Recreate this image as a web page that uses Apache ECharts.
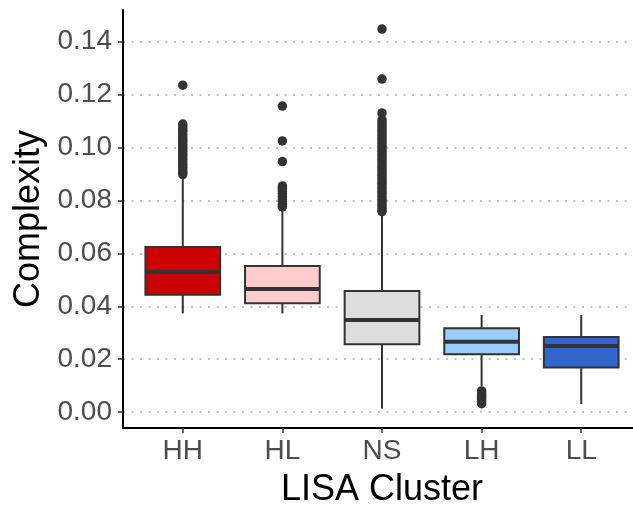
<!DOCTYPE html>
<html><head><meta charset="utf-8">
<script src="https://cdn.jsdelivr.net/npm/echarts@6/dist/echarts.min.js"></script>
<style>html,body{margin:0;padding:0;background:#fff}#c{width:633px;height:506px}</style>
</head><body><div id="c"></div>
<script>
const categories = ['HH', 'HL', 'NS', 'LH', 'LL'];
const boxColors = ['#CC0000', '#FFCCCC', '#DDDDDD', '#99CCFF', '#3366CC'];
// [lower whisker, Q1, median, Q3, upper whisker]
const boxHH = [0.0373, 0.0444, 0.0530, 0.0624, 0.0890];
const boxHL = [0.0373, 0.0412, 0.0465, 0.0552, 0.0765];
const boxNS = [0.0014, 0.0257, 0.0348, 0.0458, 0.0752];
const boxLH = [0.0098, 0.0219, 0.0266, 0.0317, 0.0367];
const boxLL = [0.0030, 0.0169, 0.0250, 0.0284, 0.0367];
const outliersHH = [0.1236, 0.1089, 0.1080, 0.1070, 0.1062, 0.1050, 0.1040, 0.1030, 0.1022, 0.1012, 0.1003, 0.0995, 0.0985, 0.0975, 0.0965, 0.0955, 0.0945, 0.0936, 0.0926, 0.0916, 0.0907, 0.0898];
const outliersHL = [0.1157, 0.1025, 0.0947, 0.0855, 0.0846, 0.0836, 0.0826, 0.0816, 0.0806, 0.0796, 0.0786, 0.0776];
const outliersNS = [0.1448, 0.1259, 0.1131, 0.1105, 0.1095, 0.1085, 0.1075, 0.1065, 0.1055, 0.1045, 0.1035, 0.1025, 0.1015, 0.1005, 0.0995, 0.0985, 0.0975, 0.0965, 0.0955, 0.0945, 0.0935, 0.0925, 0.0915, 0.0905, 0.0895, 0.0885, 0.0875, 0.0865, 0.0855, 0.0845, 0.0835, 0.0825, 0.0815, 0.0805, 0.0795, 0.0785, 0.0775, 0.0765, 0.0758];
const outliersLH = [0.0080, 0.0072, 0.0064, 0.0056, 0.0048, 0.0040, 0.0032];
const outliersLL = [];
const yTicks = [0, 0.02, 0.04, 0.06, 0.08, 0.10, 0.12, 0.14];
const xTicks = [1, 2, 3, 4, 5];

const boxes = [boxHH, boxHL, boxNS, boxLH, boxLL];
const outliers = [outliersHH, outliersHL, outliersNS, outliersLH, outliersLL];
const boxData = boxes.map((b, i) => [i + 1].concat(b));
const outData = [];
outliers.forEach((arr, i) => arr.forEach(v => outData.push([i + 1, v])));

const chart = echarts.init(document.getElementById('c'), null, {renderer: 'canvas'});
const FONT = '"Liberation Sans", Arial, sans-serif';
chart.setOption({
  animation: false,
  backgroundColor: '#ffffff',
  grid: {left: 123, right: -8, top: 10, bottom: 78, containLabel: false, outerBoundsMode: 'none'},
  xAxis: {
    type: 'value', min: 0.4, max: 5.6,
    name: 'LISA Cluster', nameLocation: 'middle', nameGap: 44,
    nameTextStyle: {fontFamily: FONT, fontSize: 36, color: '#000'},
    axisLine: {show: true, onZero: false, lineStyle: {color: '#000', width: 2}},
    axisTick: {show: true, customValues: xTicks, length: 5, lineStyle: {color: '#333', width: 1.5}},
    axisLabel: {customValues: xTicks, formatter: v => categories[Math.round(v) - 1] || '', fontFamily: FONT, fontSize: 28, color: '#4d4d4d', margin: 9},
    splitLine: {show: false}
  },
  yAxis: {
    type: 'value', min: -0.006, max: 0.152,
    name: 'Complexity', nameLocation: 'middle', nameGap: 74, nameRotate: 90,
    nameTextStyle: {fontFamily: FONT, fontSize: 36, color: '#000'},
    axisLine: {show: true, onZero: false, lineStyle: {color: '#000', width: 2}},
    axisTick: {show: true, customValues: yTicks, length: 5, lineStyle: {color: '#333', width: 1.5}},
    axisLabel: {customValues: yTicks, formatter: v => v.toFixed(2), fontFamily: FONT, fontSize: 28, color: '#4d4d4d', margin: 11},
    splitLine: {show: true, lineStyle: {color: '#c4c4c4', width: 2, type: [2, 6.5]}}
  },
  series: [
    {
      type: 'custom',
      data: boxData,
      encode: {x: 0, y: [1, 2, 3, 4, 5]},
      z: 2,
      renderItem: function (params, api) {
        const x = api.value(0);
        const lo = api.coord([x, api.value(1)]);
        const q1 = api.coord([x, api.value(2)]);
        const med = api.coord([x, api.value(3)]);
        const q3 = api.coord([x, api.value(4)]);
        const hi = api.coord([x, api.value(5)]);
        const hw = api.size([0.75, 0])[0] / 2;
        const stroke = '#333333';
        return {
          type: 'group',
          children: [
            {type: 'line', shape: {x1: lo[0], y1: lo[1], x2: q1[0], y2: q1[1]}, style: {stroke: stroke, lineWidth: 2}},
            {type: 'line', shape: {x1: q3[0], y1: q3[1], x2: hi[0], y2: hi[1]}, style: {stroke: stroke, lineWidth: 2}},
            {type: 'rect', shape: {x: q3[0] - hw, y: q3[1], width: hw * 2, height: q1[1] - q3[1]}, style: {fill: boxColors[params.dataIndex], stroke: stroke, lineWidth: 2}},
            {type: 'line', shape: {x1: med[0] - hw, y1: med[1], x2: med[0] + hw, y2: med[1]}, style: {stroke: stroke, lineWidth: 4}}
          ]
        };
      }
    },
    {
      type: 'scatter',
      data: outData,
      z: 3,
      symbol: 'circle',
      symbolSize: 9.5,
      itemStyle: {color: '#333333', opacity: 1}
    }
  ]
});
</script></body></html>
